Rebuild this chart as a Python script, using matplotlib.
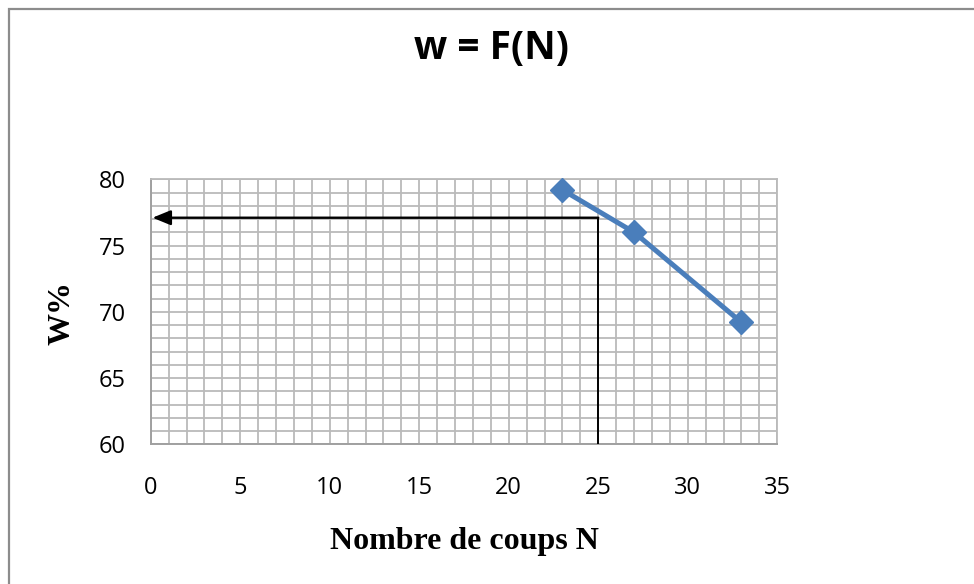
import matplotlib
matplotlib.use("Agg")
import matplotlib.pyplot as plt
from matplotlib.patches import Rectangle
import numpy as np

# Liquid limit test: water content vs number of blows
blows = [23, 27, 33]
water_content = [79.2, 76.0, 69.2]

x_ticks = [0, 5, 10, 15, 20, 25, 30, 35]
y_ticks = [60, 65, 70, 75, 80]

# Reading at N = 25
n_ref = 25
w_ref = 77.1

fig = plt.figure(figsize=(9.74, 5.84), dpi=100)
fig.patch.set_facecolor("white")

# chart frame
fig.patches.append(Rectangle((9 / 974, -0.1), 1.2, 1 - 9 / 584 + 0.1,
                             transform=fig.transFigure, fill=False,
                             edgecolor="#8c8c8c", linewidth=1.6))

ax = fig.add_axes([150.7 / 974, 1 - 444.3 / 584, 626.6 / 974, 265.0 / 584])
ax.set_xlim(0, 35)
ax.set_ylim(60, 80)

# 1-unit grid in both directions
ax.set_xticks(np.arange(0, 36, 1), minor=True)
ax.set_yticks(np.arange(60, 81, 1), minor=True)
ax.grid(which="both", color="#bababa", linewidth=1.3)
ax.set_axisbelow(True)

ax.set_xticks(x_ticks)
ax.set_yticks(y_ticks)
ax.set_xticklabels([str(v) for v in x_ticks])
ax.set_yticklabels([str(v) for v in y_ticks])
ax.tick_params(which="both", length=0)
ax.tick_params(axis="x", pad=23, labelsize=17)
ax.tick_params(axis="y", pad=18, labelsize=17)
for lab in ax.get_xticklabels() + ax.get_yticklabels():
    lab.set_family("Open Sans")

for side in ["top", "right"]:
    ax.spines[side].set_color("#bababa")
    ax.spines[side].set_linewidth(1.3)
for side in ["left", "bottom"]:
    ax.spines[side].set_color("#a0a0a0")
    ax.spines[side].set_linewidth(1.4)

# data curve
ax.plot(blows, water_content, color="#4a7ebb", linewidth=3.6,
        marker="D", markersize=12, markerfacecolor="#4a7ebb",
        markeredgecolor="#4a7ebb", zorder=4, clip_on=False)

# construction lines for N = 25
ax.plot([n_ref, n_ref], [60, w_ref], color="black", linewidth=1.4, zorder=3)
ax.annotate("", xy=(0.1, w_ref), xytext=(n_ref, w_ref),
            arrowprops=dict(arrowstyle="-|>,head_length=1.1,head_width=0.45",
                            color="black", linewidth=1.7,
                            shrinkA=0, shrinkB=0, mutation_scale=10),
            zorder=3)

fig.text(491 / 974, 1 - 49 / 584, "w = F(N)", ha="center", va="center",
         fontsize=28, fontweight="bold", family="Open Sans")

fig.text(464 / 974, 1 - 542 / 584, "Nombre de coups N", ha="center",
         va="center", fontsize=23, fontweight="bold", family="Liberation Serif")
fig.text(62 / 974, 1 - 313 / 584, "W%", ha="center", va="center",
         rotation=90, fontsize=23, fontweight="bold", family="Liberation Serif")

fig.savefig("out.png", dpi=100, facecolor="white")
